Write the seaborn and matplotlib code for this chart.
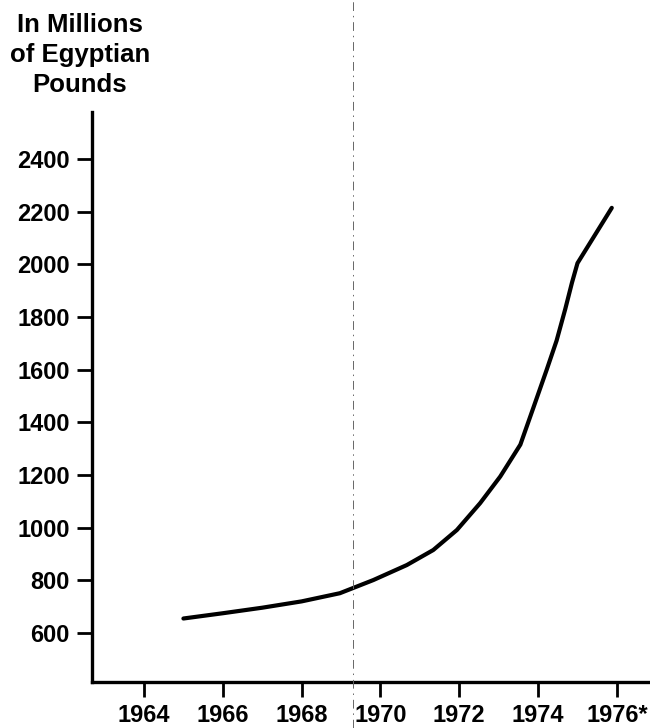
import matplotlib
matplotlib.use("Agg")
import matplotlib.pyplot as plt
import matplotlib.transforms as mtransforms
from matplotlib.lines import Line2D
import seaborn as sns

# values (x in years, y in millions of Egyptian pounds)
years = [1965.0, 1966.0, 1967.0, 1968.0, 1968.97, 1969.82, 1970.67, 1971.34,
         1971.94, 1972.53, 1973.04, 1973.55, 1973.88, 1974.22, 1974.47,
         1974.69, 1974.86, 1975.0, 1975.87]
values = [655, 675, 696, 720, 751, 801, 858, 915,
          991, 1093, 1194, 1315, 1455, 1600, 1710,
          1830, 1930, 2004, 2214]

x_ticks = [1964, 1966, 1968, 1970, 1972, 1974, 1976]
x_labels = ["1964", "1966", "1968", "1970", "1972", "1974", "1976*"]
y_ticks = [600, 800, 1000, 1200, 1400, 1600, 1800, 2000, 2200, 2400]
divider_year = 1969.3

sns.set_style("ticks")
plt.rcParams["font.family"] = ["Liberation Sans", "DejaVu Sans"]
plt.rcParams["font.weight"] = "bold"
plt.rcParams["text.color"] = "black"

fig = plt.figure(figsize=(6.5, 7.28), dpi=100)
ax = fig.add_axes([0.1415, 0.0632, 0.8585, 0.783])

sns.lineplot(x=years, y=values, ax=ax, color="black", linewidth=3.0,
             solid_capstyle="round", solid_joinstyle="round")

ax.set_xlim(1962.68, 1976.84)
ax.set_ylim(414, 2578)
ax.set_xticks(x_ticks)
ax.set_xticklabels(x_labels)
ax.set_yticks(y_ticks)

for side in ["top", "right"]:
    ax.spines[side].set_visible(False)
for side in ["left", "bottom"]:
    ax.spines[side].set_linewidth(2.4)
    ax.spines[side].set_color("black")

ax.tick_params(axis="both", direction="out", length=11, width=2.0,
               color="black", labelsize=17, pad=5, labelcolor="black")
for lbl in ax.get_xticklabels() + ax.get_yticklabels():
    lbl.set_fontweight("bold")

# thin dash-dot divider running the full height of the figure
trans = mtransforms.blended_transform_factory(ax.transData, fig.transFigure)
fig.add_artist(Line2D([divider_year, divider_year], [0, 1], transform=trans,
                      color="0.4", linewidth=0.7,
                      linestyle=(0, (9, 5, 1.5, 5))))

fig.text(0.123, 0.982, "In Millions\nof Egyptian\nPounds", ha="center",
         va="top", fontsize=18.5, fontweight="bold", linespacing=1.3,
         color="black")

fig.savefig("out.png", dpi=100)
